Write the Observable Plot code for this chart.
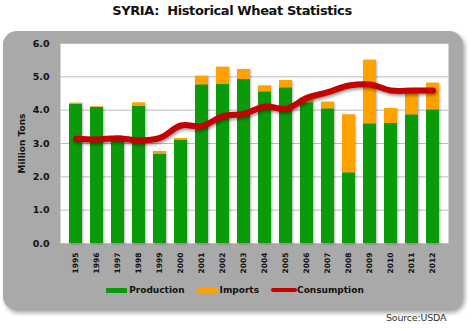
<!DOCTYPE html>
<html>
<head>
<meta charset="utf-8">
<script src="https://cdn.jsdelivr.net/npm/d3@7"></script>
<script src="https://cdn.jsdelivr.net/npm/@observablehq/plot@0.6"></script>
<style>
  html, body { margin: 0; padding: 0; background: #fff; }
  #wrap { position: relative; width: 474px; height: 331px; font-family: "DejaVu Sans", Verdana, sans-serif; overflow: hidden; }
  #title { position: absolute; top: 3px; left: 0; width: 464px; text-align: center; font-weight: bold; font-size: 13px; color: #111; letter-spacing: -0.4px; white-space: pre; }
  #panel { position: absolute; left: 3px; top: 31px; width: 460px; height: 279px; background: #a9a9a9; border-radius: 14px; box-shadow: 2px 3px 4px rgba(0,0,0,0.35); }
  #chart { position: absolute; left: 0; top: 0; }
  #chart svg { background: none; }
  #legend { position: absolute; top: 285px; left: 0; width: 470px; display: flex; justify-content: center; align-items: center; font-weight: bold; font-size: 9px; color: #111; }
  .item { display: flex; align-items: center; margin: 0 6px; }
  .sw { width: 21px; height: 5px; margin-right: 2px; }
  #source { position: absolute; top: 312px; left: 386px; font-size: 9.5px; color: #333; letter-spacing: -0.2px; }
</style>
</head>
<body>
<div id="wrap">
  <div id="title">SYRIA:  Historical Wheat Statistics</div>
  <div id="panel"></div>
  <div id="chart"></div>
  <div id="legend"></div>
  <div id="source">Source:USDA</div>
</div>
<script>
const years = ["1995","1996","1997","1998","1999","2000","2001","2002","2003","2004","2005","2006","2007","2008","2009","2010","2011","2012"];
const production = [4.18, 4.08, 3.10, 4.11, 2.68, 3.10, 4.76, 4.78, 4.92, 4.55, 4.67, 4.22, 4.04, 2.12, 3.59, 3.60, 3.86, 4.01];
const imports    = [0.03, 0.02, 0.03, 0.11, 0.08, 0.05, 0.26, 0.51, 0.30, 0.18, 0.22, 0.15, 0.20, 1.74, 1.91, 0.45, 0.65, 0.80];
const consumption = [3.14, 3.12, 3.16, 3.09, 3.17, 3.54, 3.52, 3.82, 3.89, 4.11, 4.04, 4.37, 4.54, 4.74, 4.77, 4.59, 4.59, 4.59];
const yTicks = [0, 1, 2, 3, 4, 5, 6];
const seriesNames = ["Production", "Imports", "Consumption"];
const colors = ["#0a9a0a", "#ffa200", "#c40000"];

const bars = [];
years.forEach((y, i) => {
  bars.push({year: y, type: seriesNames[0], value: production[i]});
  bars.push({year: y, type: seriesNames[1], value: imports[i]});
});
const cons = years.map((y, i) => ({year: y, value: consumption[i]}));

const plot = Plot.plot({
  width: 474,
  height: 300,
  marginLeft: 60,
  marginRight: 26,
  marginTop: 43,
  marginBottom: 57,
  style: {background: "none", fontFamily: "DejaVu Sans, Verdana, sans-serif", color: "#111"},
  x: {domain: years, padding: 0.4, align: 0.5, label: null},
  y: {domain: [0, 6], label: null},
  color: {domain: seriesNames.slice(0, 2), range: colors.slice(0, 2)},
  marks: [
    Plot.frame({fill: "white", stroke: "none"}),
    Plot.gridY(yTicks, {stroke: "#bdbdbd", strokeOpacity: 1}),
    Plot.barY(bars, {x: "year", y: "value", fill: "type", order: seriesNames.slice(0, 2)}),
    Plot.line(cons, {x: "year", y: "value", stroke: colors[2], strokeWidth: 6, curve: "catmull-rom"}),
    Plot.axisY(yTicks, {tickSize: 0, tickPadding: 11, tickFormat: d3.format(".1f"), fontWeight: "bold", fontSize: 9.5, label: "Million Tons", labelAnchor: "center", labelOffset: 42, labelArrow: "none"}),
    Plot.axisX({tickSize: 0, tickPadding: 9, tickRotate: -90, fontWeight: "bold", fontSize: 7.5, label: null})
  ]
});
document.getElementById("chart").appendChild(plot);

// styling tweaks
d3.select(plot).selectAll("[aria-label='y-axis label'] text, [aria-label='y-axis label']").attr("font-weight", "bold").attr("font-size", 9);
d3.select(plot).selectAll("[aria-label='line']").style("filter", "drop-shadow(1px 2px 1.5px rgba(0,0,0,0.4))");
d3.select(plot).selectAll("[aria-label='bar']").style("filter", "drop-shadow(1.5px 1px 1px rgba(0,0,0,0.3))");

// legend
const legend = document.getElementById("legend");
seriesNames.forEach((name, i) => {
  const it = document.createElement("div");
  it.className = "item";
  const sw = document.createElement("div");
  sw.className = "sw";
  sw.style.background = colors[i];
  if (i === 2) { sw.style.height = "4px"; sw.style.borderRadius = "2px"; sw.style.width = "26px"; sw.style.marginRight = "0"; }
  const t = document.createElement("span");
  t.textContent = name;
  it.appendChild(sw); it.appendChild(t);
  legend.appendChild(it);
});
</script>
</body>
</html>
